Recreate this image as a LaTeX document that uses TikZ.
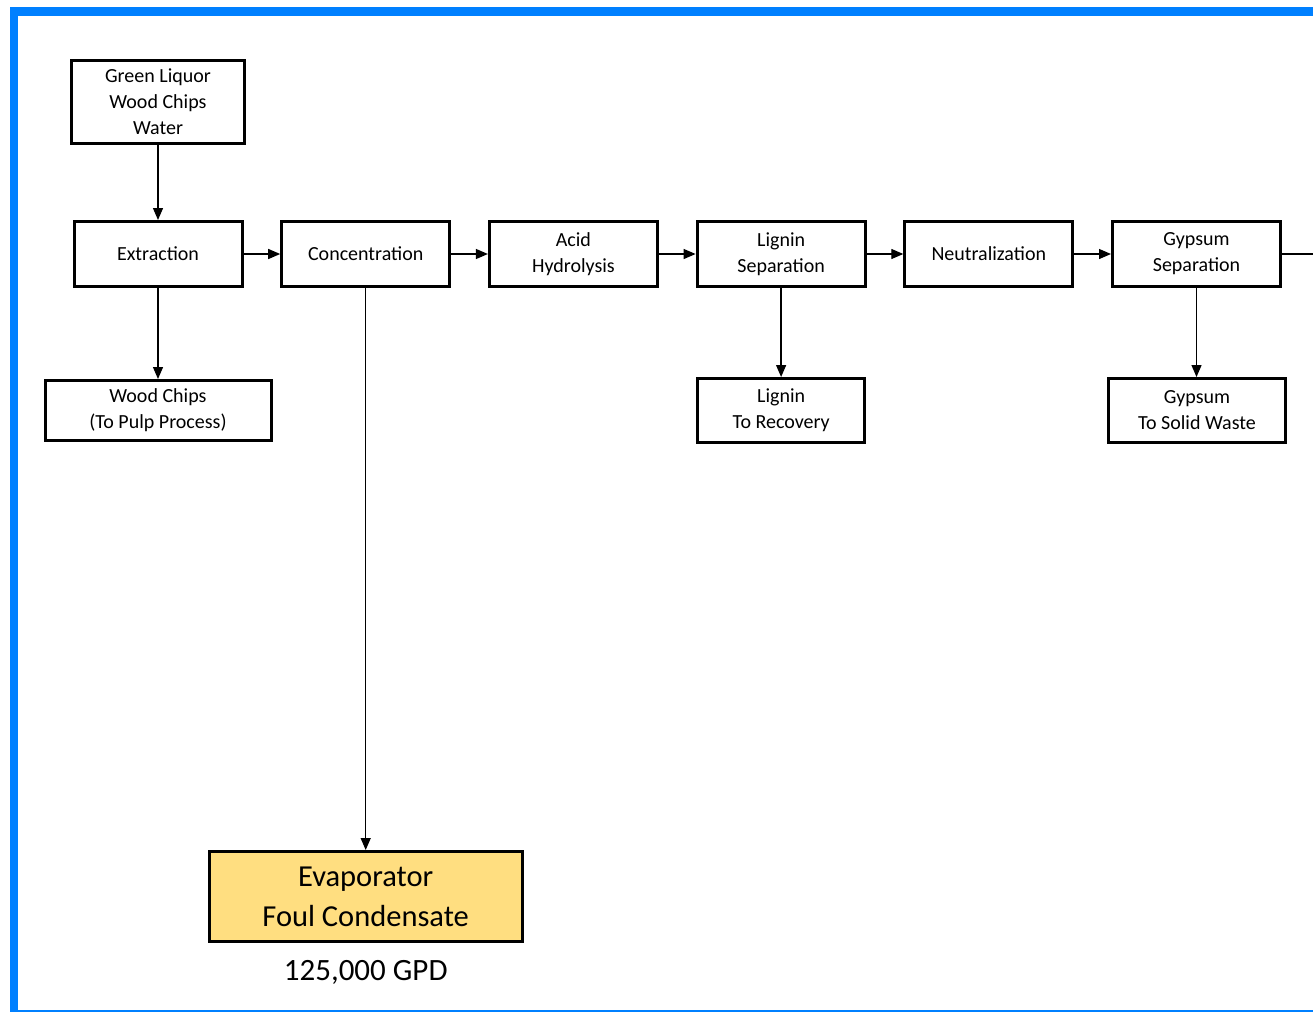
\documentclass[tikz,border=0pt]{standalone}
\usepackage{fontspec}
\setmainfont{Carlito}
\usepackage{tikz}
\usetikzlibrary{arrows.meta}
\usetikzlibrary{positioning}
\definecolor{frameblue}{RGB}{0,128,255}
\definecolor{foulyellow}{RGB}{255,222,128}
\tikzstyle{every node}+=[inner sep=0pt]
\tikzstyle{block} = [rectangle, draw, line width=3pt, fill=white, font=\fontsize{20}{26}\selectfont, text centered, align=center, minimum height=65pt, minimum width=168pt]
\tikzstyle{stream} = [block, fill=foulyellow, font=\fontsize{30.5}{40}\selectfont, minimum height=90pt, minimum width=313pt]
\tikzstyle{line} = [draw, line width=1.3pt, -{Triangle[length=12pt,width=10pt]}]
\tikzstyle{value} = [black, font=\fontsize{31}{36}\selectfont]

\begin{document}
\begin{tikzpicture}[x=1pt, y=-1pt, node distance=207.7pt]
            \useasboundingbox (0,0) rectangle (1313,1012);
            % Frame
            \draw [frameblue, line width=8.5pt, line join=miter] (1313,11.5) -- (14,11.5) -- (14,1012);
            \draw [frameblue, line width=2pt] (18,1010.5) -- (1313,1010.5);
            % Place nodes
            \node [block, minimum width=173pt, minimum height=83pt] (feed) at (158,102) {Green Liquor\\Wood Chips\\Water};
            \node [block] (n1) at (158,254) {Extraction};
            \node [block, right of=n1] (n2) {Concentration};
            \node [block, right of=n2] (n3) {Acid\\Hydrolysis};
            \node [block, right of=n3] (n4) {Lignin\\Separation};
            \node [block, right of=n4] (n5) {Neutralization};
            \node [block, right of=n5] (n6) {Gypsum\\Separation};
            \node [block, below of=n1, node distance=156.5pt, minimum width=226pt, minimum height=60pt] (chips) {Wood Chips\\(To Pulp Process)};
            \node [block, below of=n4, node distance=156.5pt, minimum width=167pt, minimum height=64pt] (lignin) {Lignin\\To Recovery};
            \node [block, below of=n6, node distance=156.5pt, minimum width=177pt, minimum height=64pt, xshift=0.5pt] (gypsum) {Gypsum\\To Solid Waste};
            \node [stream, below of=n2, node distance=642.5pt] (foul) {Evaporator\\Foul Condensate};
            \node [value, below of=foul, node distance=75.5pt] (flow) {125,000 GPD};
            \coordinate (exit) at (1313,254);
            % Draw edges
            \path [line] (feed) -- (n1);
            \path [line] (n1) -- (n2);
            \path [line] (n2) -- (n3);
            \path [line] (n3) -- (n4);
            \path [line] (n4) -- (n5);
            \path [line] (n5) -- (n6);
            \draw [line width=1.3pt] (n6) -- (exit);
            \path [line] (n1) -- (chips);
            \path [line] (n4) -- (lignin);
            \path [line] (n6) -- (n6 |- gypsum.north);
            \path [line] (n2) -- (foul);
          \end{tikzpicture}
\end{document}
